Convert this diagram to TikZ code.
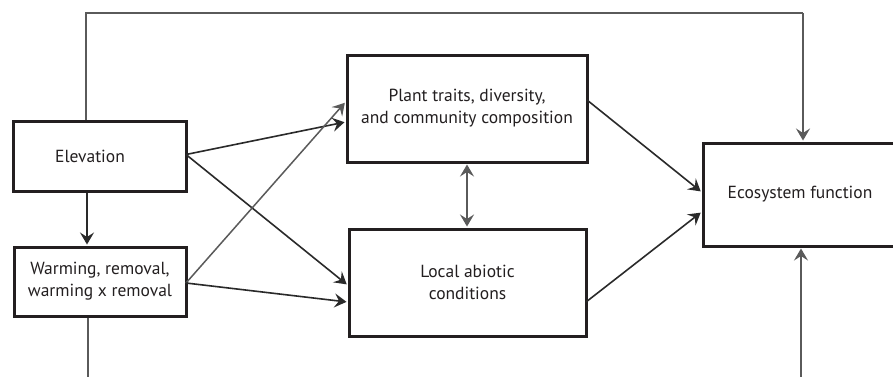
\documentclass[tikz,border=0pt]{standalone}
\usepackage{fontspec}
\setmainfont{PT Sans}
\usetikzlibrary{arrows.meta}
\definecolor{boxc}{HTML}{231F20}
\definecolor{arc}{HTML}{2A2A2A}
\definecolor{grc}{HTML}{5A5A5A}
\tikzset{
  box/.style={draw=boxc, line width=3pt, inner sep=0pt, align=center,
    font=\fontsize{17.5}{22}\selectfont, text=boxc},
  tip/.style={-{Stealth[length=12pt,width=14pt,inset=4.5pt]}},
  conn/.style={arc, line width=1.6pt, tip, shorten >=1pt},
  gconn/.style={grc, line width=1.5pt, tip, shorten >=1pt},
  gline/.style={grc, line width=1.5pt},
}
\begin{document}
\begin{tikzpicture}[x=1pt,y=-1pt]
\path[use as bounding box, clip] (0,0) rectangle (893,376);
\fill[white] (0,0) rectangle (893,376);
% boxes
\node[box, minimum width=173pt, minimum height=70pt] (elev) at (99.5,156) {Elevation\hspace{19pt}};
\node[box, minimum width=172pt, minimum height=69pt] (warm) at (100,281.5) {Warming, removal,\\warming x removal};
\node[box, minimum width=240pt, minimum height=107pt] (plant) at (467,108.5) {Plant traits, diversity,\\and community composition};
\node[box, minimum width=237pt, minimum height=107pt] (local) at (467.5,282.5) {Local abiotic\\conditions};
\node[box, minimum width=202pt, minimum height=103pt] (eco) at (804,194.5) {Ecosystem function\hspace{8pt}};
% helper coordinates
\coordinate (t1) at (86,13);
\coordinate (t2) at (803,13);
\coordinate (v1) at (87,0);
\coordinate (b1) at (88,380);
\coordinate (b2) at (801,380);
\coordinate (m1) at (467,0);
\coordinate (eA) at (186,154.5);
\coordinate (wA) at (186,283);
\coordinate (pR) at (587,100);
\coordinate (lR) at (586,302);
% top loop
\draw[gline] (elev.north -| t1) -- (t1) -- (t2);
\draw[gconn] (t2) -- (eco.north -| t2);
% bottom lines
\draw[gline] (warm.south -| b1) -- (b1);
\draw[gconn] (b2) -- (eco.south -| b2);
% elevation -> warming
\draw[conn] (elev.south -| v1) -- (warm.north -| v1);
% elevation -> plant, local
\draw[conn] (eA) -- ([yshift=-13.5pt]plant.west);
\draw[conn] (eA) -- ([yshift=-2.5pt]local.west);
% warming -> plant, local
\draw[gconn] (wA) -- ([yshift=6.5pt]plant.west);
\draw[conn] (wA) -- ([yshift=-19.5pt]local.west);
% plant <-> local
\draw[gline, {Stealth[length=12pt,width=14pt,inset=4.5pt]}-{Stealth[length=12pt,width=14pt,inset=4.5pt]}, shorten >=1pt, shorten <=1pt] (plant.south -| m1) -- (local.north -| m1);
% to ecosystem
\draw[conn] (pR) -- ([yshift=2.5pt]eco.west);
\draw[conn] (lR) -- ([yshift=-17.5pt]eco.west);
\end{tikzpicture}
\end{document}
